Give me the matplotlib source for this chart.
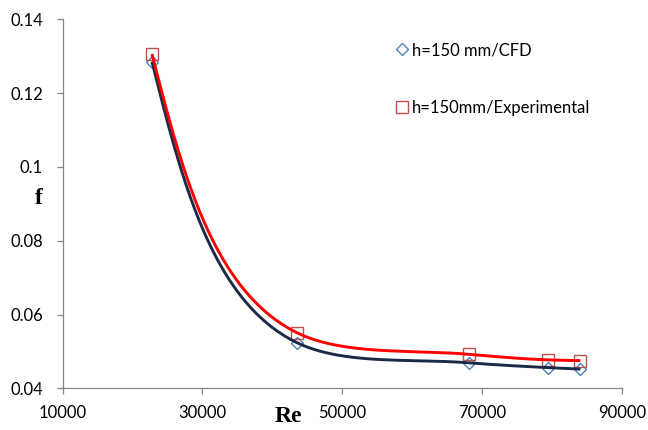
import numpy as np
import matplotlib
matplotlib.use("Agg")
import matplotlib.pyplot as plt
from matplotlib.lines import Line2D

# ---- data ----
re_vals = [22800, 43500, 68200, 79500, 84100]
f_cfd = [0.1285, 0.0524, 0.0469, 0.0456, 0.0452]
f_exp = [0.1306, 0.0551, 0.0492, 0.0477, 0.0475]
label_cfd = "h=150 mm/CFD"
label_exp = "h=150mm/Experimental"
x_ticks = [10000, 30000, 50000, 70000, 90000]
y_ticks = [0.04, 0.06, 0.08, 0.1, 0.12, 0.14]
y_tick_labels = ["0.04", "0.06", "0.08", "0.1", "0.12", "0.14"]

plt.rcParams['font.family'] = ['Lato', 'DejaVu Sans']

fig = plt.figure(figsize=(6.48, 4.30), dpi=100)
ax = fig.add_axes([62.5 / 648, (430 - 388.3) / 430, (621.7 - 62.5) / 648, (388.3 - 19.3) / 430])
ax.set_xlim(10000, 90000)
ax.set_ylim(0.04, 0.14)

gray = '#868686'
for s in ['top', 'right']:
    ax.spines[s].set_visible(False)
for s in ['left', 'bottom']:
    ax.spines[s].set_color(gray)
    ax.spines[s].set_linewidth(0.9)
ax.set_xticks(x_ticks)
ax.set_xticklabels([str(v) for v in x_ticks])
ax.set_yticks(y_ticks)
ax.set_yticklabels(y_tick_labels)
ax.tick_params(axis='both', direction='out', length=4, width=0.9, color=gray,
               labelsize=12, labelcolor='black')
ax.tick_params(axis='y', pad=10)
ax.tick_params(axis='x', pad=8)


def smooth_curve(ax, xs, ys, alpha=1.0, n=80):
    """Catmull-Rom style Bezier spline in display space, natural ends."""
    P = ax.transData.transform(np.column_stack([xs, ys]))
    k = len(P)
    d = np.linalg.norm(np.diff(P, axis=0), axis=1) ** alpha
    t = np.concatenate([[0.0], np.cumsum(d)])
    m = [None] * k
    for i in range(1, k - 1):
        m[i] = ((P[i] - P[i - 1]) / (t[i] - t[i - 1])
                - (P[i + 1] - P[i - 1]) / (t[i + 1] - t[i - 1])
                + (P[i + 1] - P[i]) / (t[i + 1] - t[i]))
    out = []
    s = np.linspace(0, 1, n)[:, None]
    for i in range(k - 1):
        h = t[i + 1] - t[i]
        c1 = P[i] + m[i] * h / 3 if m[i] is not None else None
        c2 = P[i + 1] - m[i + 1] * h / 3 if m[i + 1] is not None else None
        if c1 is None and c2 is None:
            c1 = P[i] + (P[i + 1] - P[i]) / 3
            c2 = P[i] + 2 * (P[i + 1] - P[i]) / 3
        elif c1 is None:
            c1 = (P[i] + c2) / 2
        elif c2 is None:
            c2 = (P[i + 1] + c1) / 2
        B = ((1 - s) ** 3 * P[i] + 3 * (1 - s) ** 2 * s * c1
             + 3 * (1 - s) * s ** 2 * c2 + s ** 3 * P[i + 1])
        out.append(B if i == 0 else B[1:])
    out = np.vstack(out)
    data = ax.transData.inverted().transform(out)
    return data[:, 0], data[:, 1]


blue = '#4F81BD'
red_m = '#C0504D'
ax.plot(re_vals, f_cfd, linestyle='none', marker='D', markersize=6.0,
        markerfacecolor='none', markeredgecolor=blue, markeredgewidth=1.0, zorder=2)
ax.plot(re_vals, f_exp, linestyle='none', marker='s', markersize=9.3,
        markerfacecolor='none', markeredgecolor=red_m, markeredgewidth=1.0, zorder=2)

cx, cy = smooth_curve(ax, re_vals, f_cfd)
ax.plot(cx, cy, color='#1B2A47', linewidth=2.1, solid_capstyle='butt', zorder=3)
ex, ey = smooth_curve(ax, re_vals, f_exp)
ax.plot(ex, ey, color='#FF0000', linewidth=2.1, solid_capstyle='butt', zorder=4)

handles = [
    Line2D([], [], linestyle='none', marker='D', markersize=6.0, markerfacecolor='none',
           markeredgecolor=blue, markeredgewidth=1.0),
    Line2D([], [], linestyle='none', marker='s', markersize=9.3, markerfacecolor='none',
           markeredgecolor=red_m, markeredgewidth=1.0),
]
leg = ax.legend(handles, [label_cfd, label_exp], loc='upper left',
                bbox_to_anchor=(393.4 / 648, (430 - 42) / 430), bbox_transform=fig.transFigure,
                frameon=False, fontsize=12, handlelength=1.0, handletextpad=0.1,
                labelspacing=2.52, borderpad=0, borderaxespad=0)

fig.text(39 / 648, 1 - 198 / 430, 'f', family='Liberation Serif', fontweight='bold',
         fontsize=17, ha='center', va='center')
fig.text(288 / 648, 1 - 417 / 430, 'Re', family='Liberation Serif', fontweight='bold',
         fontsize=17, ha='center', va='center')

fig.savefig('out.png', dpi=100)
